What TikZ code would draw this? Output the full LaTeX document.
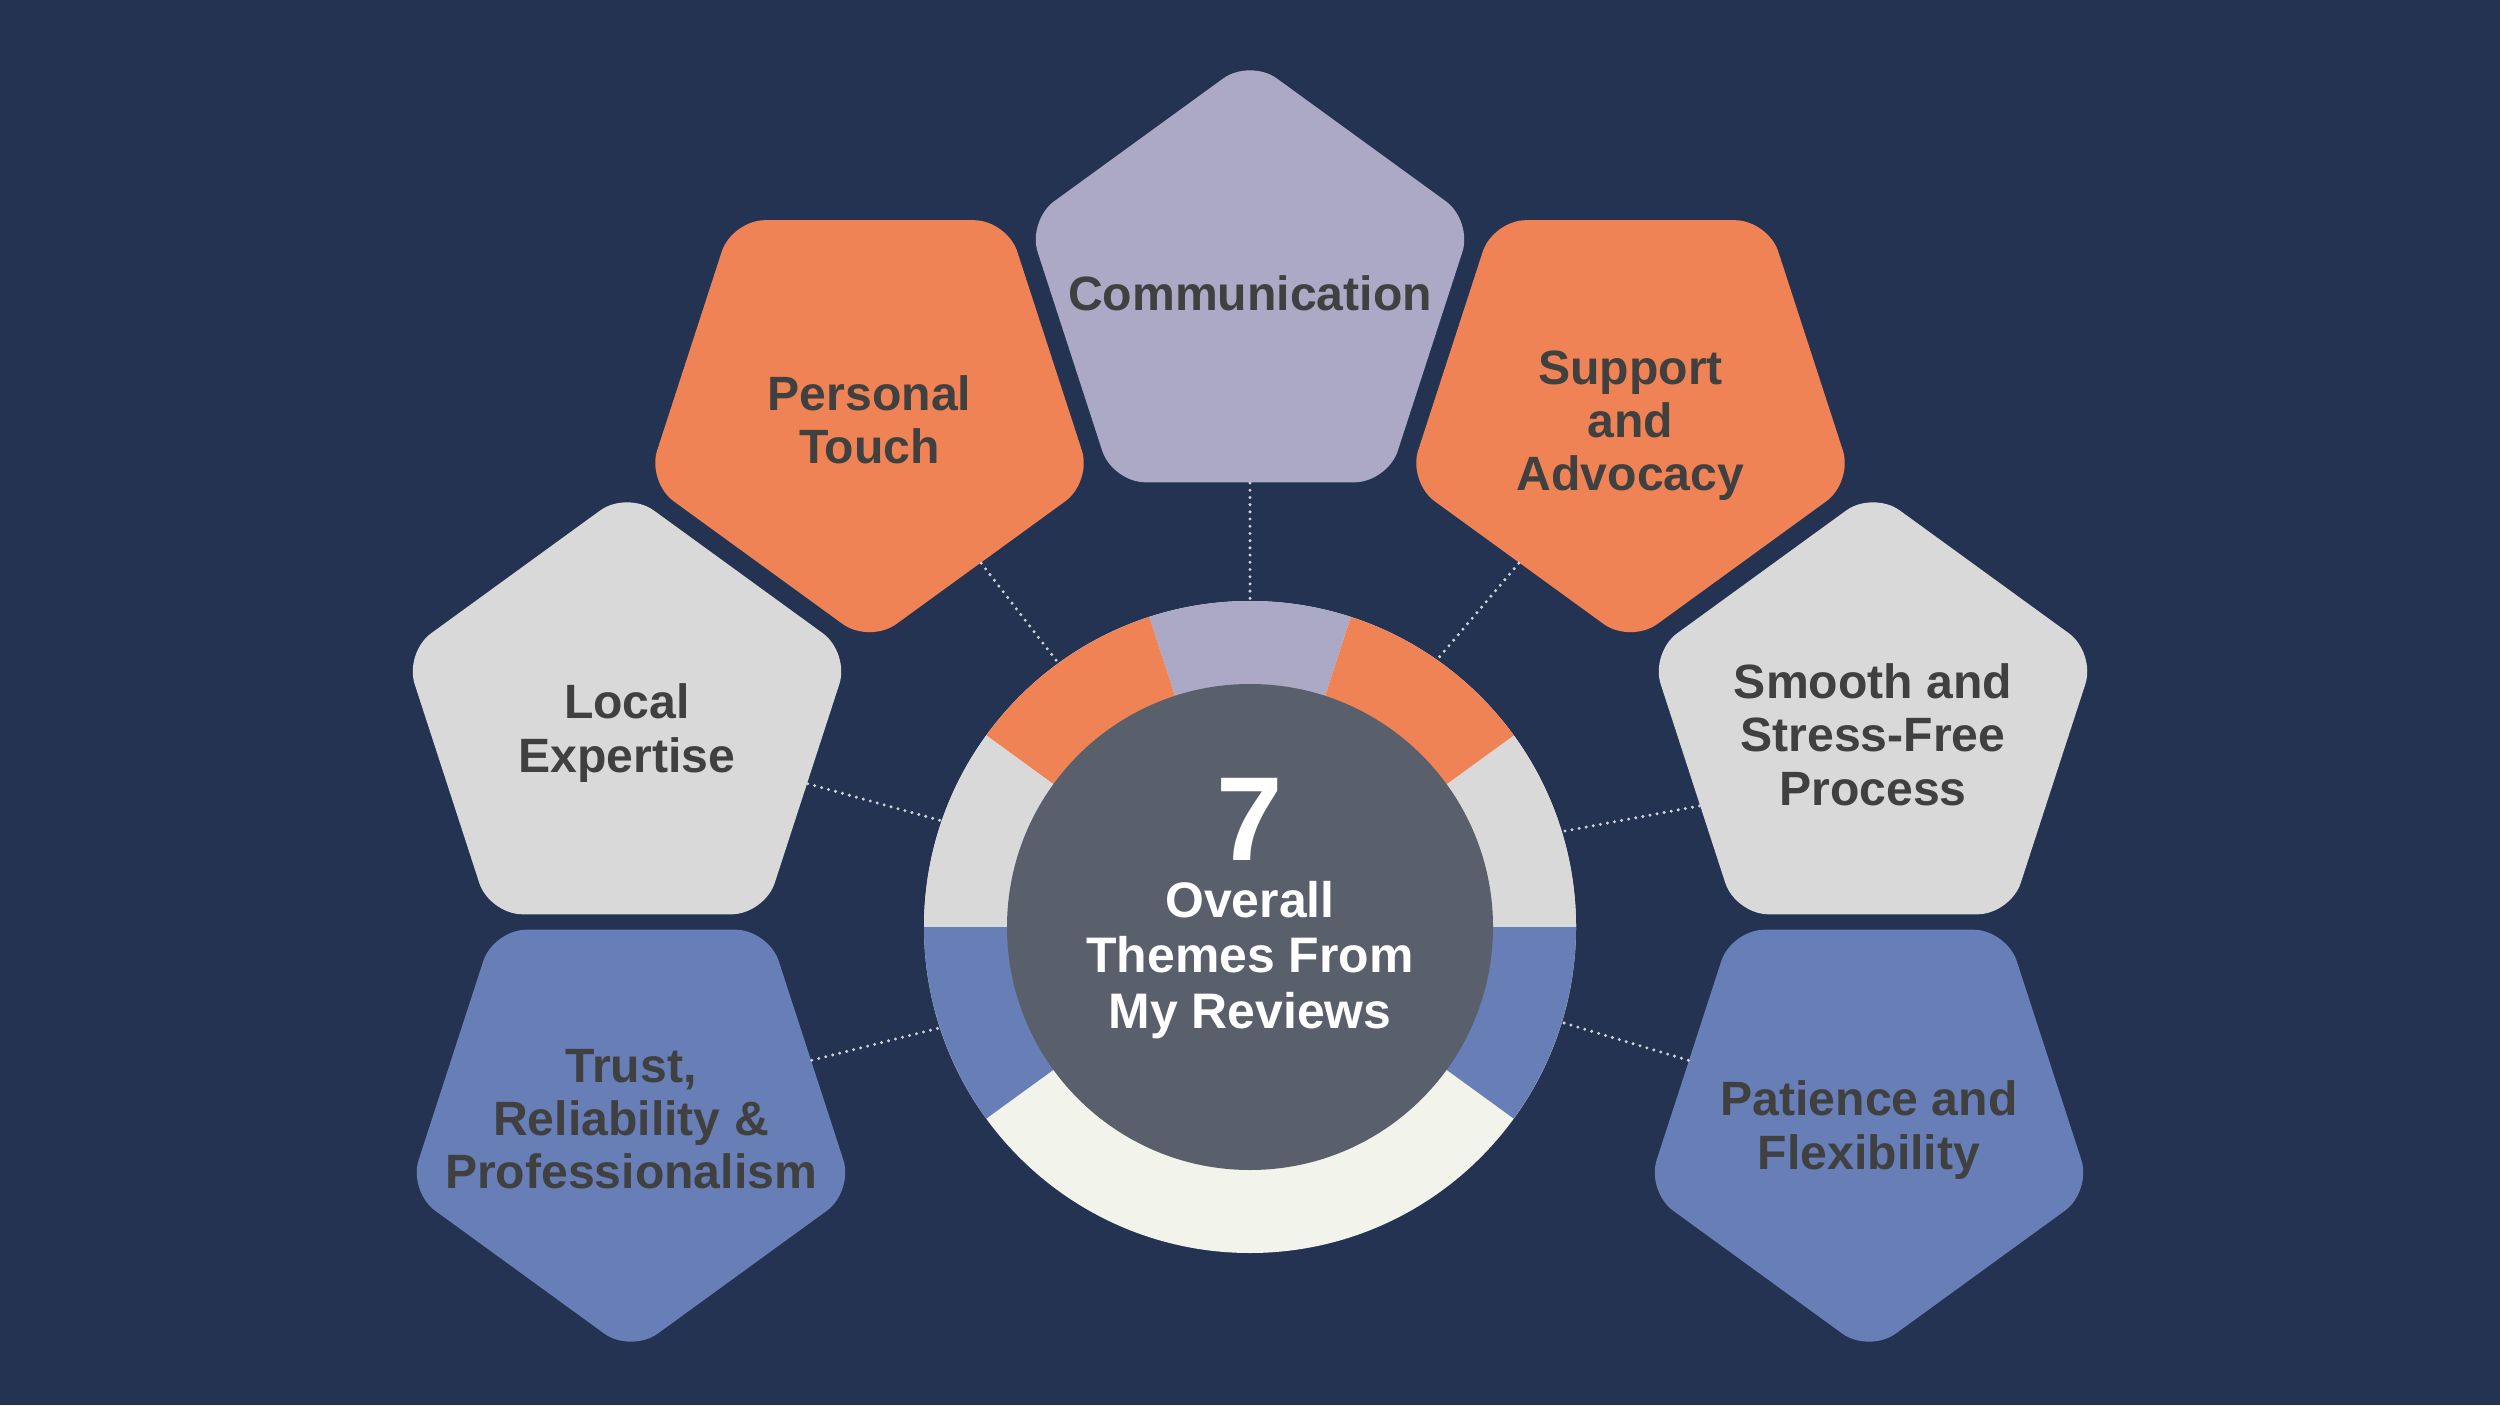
\documentclass[tikz,border=0pt]{standalone}
\usepackage{fontspec}
\setmainfont{Liberation Sans}
\usetikzlibrary{shapes.geometric}
\definecolor{navybg}{RGB}{36,51,82}
\definecolor{softorange}{RGB}{240,131,85}
\definecolor{softlilac}{RGB}{171,169,198}
\definecolor{softgray}{RGB}{217,217,217}
\definecolor{softblue}{RGB}{103,126,182}
\definecolor{softcream}{RGB}{242,243,235}
\definecolor{hubgray}{RGB}{89,96,107}
\definecolor{ink}{RGB}{64,64,64}
\definecolor{dotgray}{RGB}{208,210,214}

\begin{document}
\begin{tikzpicture}
\tikzstyle{pent}=[regular polygon,regular polygon sides=5,minimum size=46.8mm,inner xsep=-15mm,inner ysep=-8mm,rounded corners=3.3mm,align=center,text=ink,font=\bfseries\fontsize{13.7}{15.1}\selectfont]
\tikzstyle{flip}=[pent,shape border rotate=180]
\tikzstyle{linkdots}=[draw=dotgray,line width=.95pt,line cap=round,dash pattern=on 0pt off 2.05pt]
\fill[navybg] (0,0) rectangle (25,14.05);
\useasboundingbox (0,0) rectangle (25,14.05);
% ring of colour segments
\node[circle,fill=softcream,minimum size=65.2mm,inner sep=0pt] (ring) at (12.5,4.78) {};
\fill[softgray] (ring.center) -- +(0:3.26) arc[start angle=0,end angle=36,radius=3.26] -- cycle;
\fill[softorange] (ring.center) -- +(36:3.26) arc[start angle=36,end angle=72,radius=3.26] -- cycle;
\fill[softlilac] (ring.center) -- +(72:3.26) arc[start angle=72,end angle=108,radius=3.26] -- cycle;
\fill[softorange] (ring.center) -- +(108:3.26) arc[start angle=108,end angle=144,radius=3.26] -- cycle;
\fill[softgray] (ring.center) -- +(144:3.26) arc[start angle=144,end angle=180,radius=3.26] -- cycle;
\fill[softblue] (ring.center) -- +(180:3.26) arc[start angle=180,end angle=216,radius=3.26] -- cycle;
\fill[softblue] (ring.center) -- +(-36:3.26) arc[start angle=-36,end angle=0,radius=3.26] -- cycle;
\node[circle,fill=hubgray,minimum size=48.6mm] (hub) at (ring.center) {};
\node[text=white,font=\bfseries\fontsize{34}{36}\selectfont,anchor=base] (count) at (12.5,5.45) {7};
\node[text=white,align=center,font=\bfseries\fontsize{14.2}{15.8}\selectfont] (title) at (12.5,4.45) {Overall\\Themes From\\My Reviews};
% themes
\node[pent,fill=softlilac] (comm) at (12.5,11.12) {Communication};
\node[flip,fill=softorange,text height=10.9mm,text depth=0pt] (touch) at (8.695,9.955) {Personal\\Touch};
\node[flip,fill=softorange,text height=16.2mm,text depth=0pt] (advocacy) at (16.305,9.955) {Support\\and\\Advocacy};
\node[pent,fill=softgray,text height=9.4mm,text depth=0pt] (local) at (6.27,6.80) {Local\\Expertise};
\node[pent,fill=softgray,text height=16mm,text depth=0pt] (smooth) at (18.73,6.80) {Smooth and\\Stress-Free\\Process};
\node[flip,fill=softblue] (trust) at (6.31,2.86) {Trust,\\Reliability \&\\Professionalism};
\node[flip,fill=softblue,text height=10mm,text depth=0pt] (patience) at (18.69,2.86) {Patience and\\Flexibility};
\draw[linkdots] (comm.-90)--(ring.90);
\draw[linkdots] (touch.-54)--(ring.126);\draw[linkdots] (advocacy.234)--(ring.55);
\draw[linkdots] (local.-18)--(ring.161);\draw[linkdots] (smooth.205)--(ring.17);
\draw[linkdots] (trust.18)--(ring.198);\draw[linkdots] (patience.162)--(ring.-17);
\end{tikzpicture}
\end{document}
